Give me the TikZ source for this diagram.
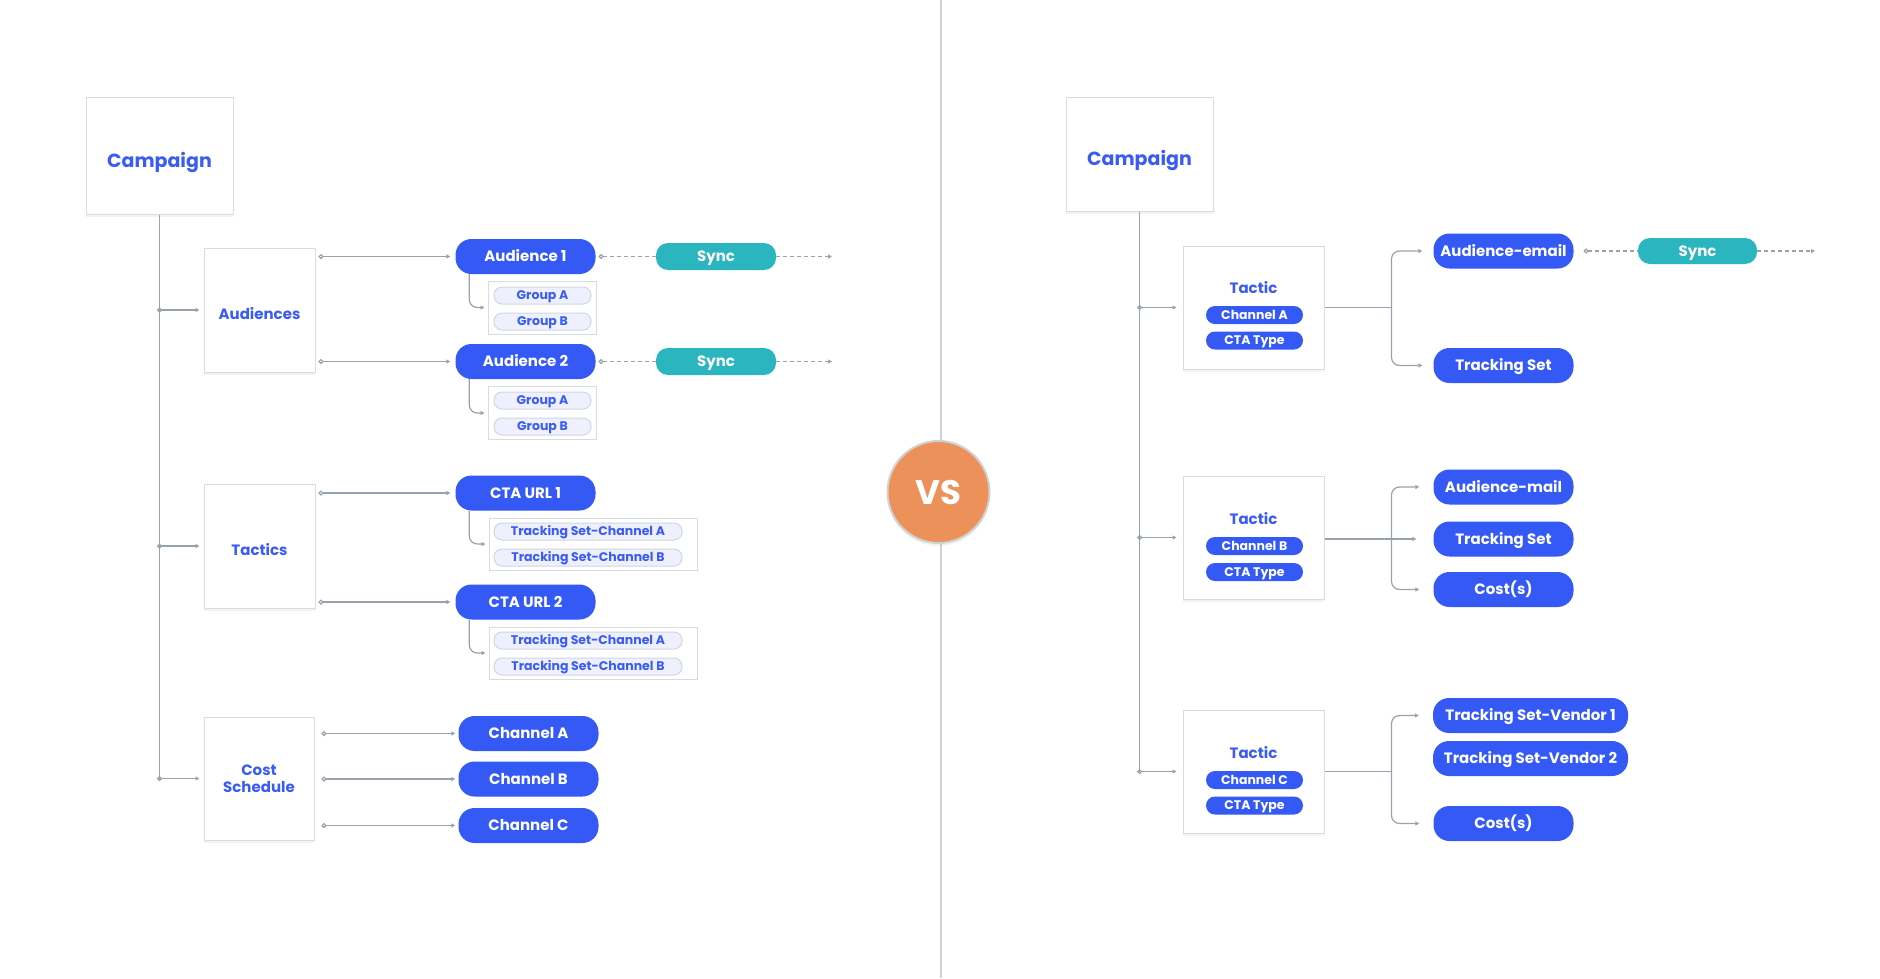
\documentclass[tikz,border=0pt]{standalone}
\usepackage{fontspec}
\setmainfont{Poppins}
\usetikzlibrary{positioning,arrows.meta,shadows}

\definecolor{pillblue}{HTML}{3459F5}
\definecolor{labelblue}{HTML}{3A5CF2}
\definecolor{syncteal}{HTML}{2BB6BF}
\definecolor{vsorange}{HTML}{EC915A}
\definecolor{wiregray}{HTML}{98A2AD}
\definecolor{edgegray}{HTML}{D8DBDF}
\definecolor{chipfill}{HTML}{EEF0FD}
\definecolor{chipedge}{HTML}{D2D6E2}

\begin{document}
\begin{tikzpicture}[x=1pt,y=-1pt,
    panelbase/.style={draw=edgegray, line width=1pt, fill=white, inner sep=0pt,
      drop shadow={shadow xshift=0pt, shadow yshift=-3pt, opacity=0.10},
      text=labelblue, font=\fontsize{15}{16.5}\selectfont\bfseries, align=center},
    panel/.style={panelbase, text height=18pt, text depth=0pt},
    bigpanel/.style={panel, minimum width=147pt, text height=23pt, font=\fontsize{19}{22}\selectfont\bfseries},
    frame/.style={draw=edgegray, line width=1pt, fill=white, inner sep=0pt},
    pill/.style={fill=pillblue, rounded corners=16pt, minimum width=140pt, minimum height=35pt,
      inner sep=0pt, text height=10.5pt, text depth=0pt, text=white, font=\fontsize{15}{17}\selectfont\bfseries},
    syncpill/.style={pill, fill=syncteal, rounded corners=12pt, minimum width=120pt, minimum height=27pt},
    chip/.style={fill=chipfill, draw=chipedge, line width=1pt, rounded corners=8pt, minimum height=17pt,
      inner sep=0pt, text height=8.75pt, text depth=0pt, text=labelblue, font=\fontsize{12.5}{14}\selectfont\bfseries},
    tchip/.style={fill=pillblue, rounded corners=9pt, minimum width=97pt, minimum height=18pt,
      inner sep=0pt, text height=8.75pt, text depth=0pt, text=white, font=\fontsize{12.5}{14}\selectfont\bfseries},
    tlabel/.style={text=labelblue, inner sep=0pt, text height=10.5pt, text depth=0pt, font=\fontsize{15}{17}\selectfont\bfseries},
    link/.style={draw=wiregray, line width=1.2pt},
    arr/.style={link, -{Triangle[length=4pt,width=4pt]}},
    dotarr/.style={link, {Circle[open,length=5pt,width=5pt]}-{Triangle[length=4pt,width=4pt]}},
    dotdash/.style={link, dash pattern=on 4pt off 3pt, {Circle[open,length=5pt,width=5pt]}-},
    dasharr/.style={link, dash pattern=on 4pt off 3pt, -{Triangle[length=4pt,width=4pt]}}]

    \useasboundingbox (0,0) rectangle (1880,978);
    \fill[white] (0,0) rectangle (1880,978);

    % divider and VS badge
    \draw[draw=edgegray!90!gray, line width=1.5pt] (941,0) -- (941,978);
    \node[circle, fill=vsorange, draw=gray!35, line width=2pt, minimum size=102pt, inner sep=0pt,
      drop shadow={shadow xshift=0pt, shadow yshift=-3pt, opacity=0.10},
      text height=24pt, text depth=0pt, text=white, font=\fontsize{34}{40}\selectfont\bfseries] (vs) at (938.5,492) {VS};

    % ---------------- left: current model ----------------
    \node[bigpanel, minimum height=117pt] (campL) at (159.5,155.5) {Campaign};
    \node[panel, minimum width=111pt, minimum height=124pt] (audiences) at (259.5,310) {Audiences};
    \node[panel, minimum width=111pt, minimum height=124pt] (tactics) at (259.5,546) {Tactics};
    \node[panelbase, minimum width=110pt, minimum height=123pt] (costs) at (259,778.5) {Cost\\Schedule};

    \draw[link] (campL.south) -- (campL.south |- costs.west);
    \draw[dotarr, shorten <=-2.5pt, shorten >=4pt] (campL.south |- audiences.west) -- (audiences.west);
    \draw[dotarr, shorten <=-2.5pt, shorten >=4pt] (campL.south |- tactics.west) -- (tactics.west);
    \draw[dotarr, shorten <=-2.5pt, shorten >=4pt] (campL.south |- costs.west) -- (costs.west);

    % audiences
    \node[pill] (aud1) at (525.5,256.5) {Audience 1};
    \node[pill] (aud2) at (525.5,361.5) {Audience 2};
    \node[syncpill] (sync1) at (716,256.5) {Sync};
    \node[syncpill] (sync2) at (716,361.5) {Sync};
    \coordinate (sync1end) at (832,256.5);
    \coordinate (sync2end) at (832,361.5);

    \node[frame, minimum width=108pt, minimum height=53pt] (grp1) at (542,307.5) {};
    \node[chip, minimum width=97pt] (grp1a) at (542.5,295.5) {Group A};
    \node[chip, minimum width=97pt] (grp1b) at (542.5,321.5) {Group B};
    \node[frame, minimum width=108pt, minimum height=53pt] (grp2) at (542,413) {};
    \node[chip, minimum width=97pt] (grp2a) at (542.5,400.5) {Group A};
    \node[chip, minimum width=97pt] (grp2b) at (542.5,426.5) {Group B};

    \draw[dotarr, shorten <=3pt, shorten >=5pt] (audiences.east |- aud1) -- (aud1.west);
    \draw[dotarr, shorten <=3pt, shorten >=5pt] (audiences.east |- aud2) -- (aud2.west);
    \draw[dotdash, shorten <=3pt] (aud1.east) -- (sync1.west);
    \draw[dotdash, shorten <=3pt] (aud2.east) -- (sync2.west);
    \draw[dasharr] (sync1.east) -- (sync1end);
    \draw[dasharr] (sync2.east) -- (sync2end);
    \draw[arr, rounded corners=8pt, shorten >=3pt] ([xshift=14pt]aud1.south west) |- (grp1.west);
    \draw[arr, rounded corners=8pt, shorten >=3pt] ([xshift=14pt]aud2.south west) |- (grp2.west);

    % tactics
    \node[pill] (cta1) at (525.5,493) {CTA URL 1};
    \node[pill] (cta2) at (525.5,602) {CTA URL 2};

    \node[frame, minimum width=208pt, minimum height=52pt] (trk1) at (593,544) {};
    \node[chip, minimum width=188pt] (trk1a) at (588,531.5) {Tracking Set-Channel A};
    \node[chip, minimum width=188pt] (trk1b) at (588,557.5) {Tracking Set-Channel B};
    \node[frame, minimum width=208pt, minimum height=52pt] (trk2) at (593,653) {};
    \node[chip, minimum width=188pt] (trk2a) at (588,640.5) {Tracking Set-Channel A};
    \node[chip, minimum width=188pt] (trk2b) at (588,666.5) {Tracking Set-Channel B};

    \draw[dotarr, shorten <=3pt, shorten >=5pt] (tactics.east |- cta1) -- (cta1.west);
    \draw[dotarr, shorten <=3pt, shorten >=5pt] (tactics.east |- cta2) -- (cta2.west);
    \draw[arr, rounded corners=8pt, shorten >=3pt] ([xshift=14pt]cta1.south west) |- (trk1.west);
    \draw[arr, rounded corners=8pt, shorten >=3pt] ([xshift=14pt]cta2.south west) |- (trk2.west);

    % cost schedule
    \node[pill] (chA) at (528.5,733.5) {Channel A};
    \node[pill] (chB) at (528.5,779) {Channel B};
    \node[pill] (chC) at (528.5,825.5) {Channel C};
    \draw[dotarr, shorten <=7pt, shorten >=3pt] (costs.east |- chA) -- (chA.west);
    \draw[dotarr, shorten <=7pt, shorten >=3pt] (costs.east |- chB) -- (chB.west);
    \draw[dotarr, shorten <=7pt, shorten >=3pt] (costs.east |- chC) -- (chC.west);

    % ---------------- right: new model ----------------
    \node[bigpanel, minimum height=114pt] (campR) at (1139.5,154) {Campaign};

    \node[panel, minimum width=141pt, minimum height=123pt] (tac1) at (1253.5,307.5) {};
    \node[tlabel] (tac1t) at (1253.5,288) {Tactic};
    \node[tchip] (tac1a) at (1254.5,315) {Channel A};
    \node[tchip] (tac1b) at (1254.5,340.5) {CTA Type};

    \node[panel, minimum width=141pt, minimum height=123pt] (tac2) at (1253.5,537.5) {};
    \node[tlabel] (tac2t) at (1253.5,519) {Tactic};
    \node[tchip] (tac2a) at (1254.5,546) {Channel B};
    \node[tchip] (tac2b) at (1254.5,572) {CTA Type};

    \node[panel, minimum width=141pt, minimum height=123pt] (tac3) at (1253.5,771.5) {};
    \node[tlabel] (tac3t) at (1253.5,753) {Tactic};
    \node[tchip] (tac3a) at (1254.5,780) {Channel C};
    \node[tchip] (tac3b) at (1254.5,805.5) {CTA Type};

    \draw[link] (campR.south) -- (campR.south |- tac3.west);
    \draw[dotarr, shorten <=-2.5pt, shorten >=6pt] (campR.south |- tac1.west) -- (tac1.west);
    \draw[dotarr, shorten <=-2.5pt, shorten >=6pt] (campR.south |- tac2.west) -- (tac2.west);
    \draw[dotarr, shorten <=-2.5pt, shorten >=6pt] (campR.south |- tac3.west) -- (tac3.west);

    % first tactic
    \node[pill] (audE) at (1503.5,251) {Audience-email};
    \node[syncpill, minimum width=119pt, minimum height=26pt] (syncR) at (1697.5,251) {Sync};
    \coordinate (syncRend) at (1815,251);
    \node[pill] (trkR1) at (1503.5,365.5) {Tracking Set};

    \path (tac1.east) ++(67,0) coordinate (fork1);
    \draw[link] (tac1.east) -- (fork1);
    \draw[arr, rounded corners=8pt, shorten >=11pt] (fork1) |- (audE.west);
    \draw[arr, rounded corners=8pt, shorten >=11pt] (fork1) |- (trkR1.west);
    \draw[dotdash, shorten <=10pt] (audE.east) -- (syncR.west);
    \draw[dasharr] (syncR.east) -- (syncRend);

    % second tactic
    \node[pill] (audM) at (1503.5,487) {Audience-mail};
    \node[pill] (trkR2) at (1503.5,539) {Tracking Set};
    \node[pill] (costR2) at (1503.5,589.5) {Cost(s)};

    \path (tac2.east |- trkR2) ++(67,0) coordinate (fork2);
    \draw[arr, shorten >=17pt] (tac2.east |- trkR2) -- (trkR2.west);
    \draw[arr, rounded corners=8pt, shorten >=14pt] (fork2) |- (audM.west);
    \draw[arr, rounded corners=8pt, shorten >=14pt] (fork2) |- (costR2.west);

    % third tactic
    \node[pill, minimum width=195pt] (ven1) at (1530.5,715.5) {Tracking Set-Vendor 1};
    \node[pill, minimum width=195pt] (ven2) at (1530.5,758.5) {Tracking Set-Vendor 2};
    \node[pill] (costR3) at (1503.5,823.5) {Cost(s)};

    \path (tac3.east) ++(67,0) coordinate (fork3);
    \draw[link] (tac3.east) -- (fork3);
    \draw[arr, rounded corners=8pt, shorten >=14pt] (fork3) |- (ven1.west);
    \draw[arr, rounded corners=8pt, shorten >=14pt] (fork3) |- (costR3.west);
\end{tikzpicture}
\end{document}
